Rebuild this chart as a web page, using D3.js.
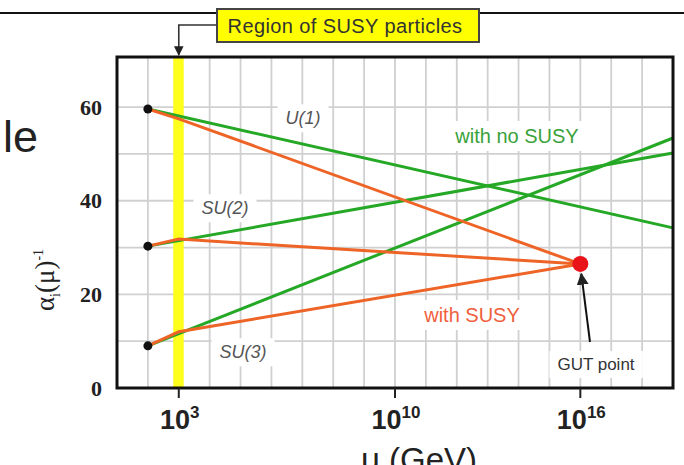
<!DOCTYPE html>
<html lang="en">
<head>
<meta charset="utf-8">
<title>Running couplings with and without SUSY</title>
<style>
  body { margin: 0; background: #fff; }
  svg { display: block; }
</style>
</head>
<body>
<script src="https://cdn.jsdelivr.net/npm/d3@7"></script>
<script>
  // data
  var groups = ["U(1)", "SU(2)", "SU(3)"];
  var muStart = 1e2, muSusy = 1e3, muGut = 1e16, muEnd = 1e19;
  var startVals = [59.6, 30.3, 9.0];      // alpha^-1 at the Z mass
  var noSusyEnd = [34.2, 50.2, 53.4];     // alpha^-1 at right edge, no SUSY
  var susyBreak = [57.5, 31.8, 12.0];     // alpha^-1 at 10^3 GeV
  var gutVal = 26.5;                      // alpha^-1 at the GUT point
  var susyBand = [10 ** 2.82, 10 ** 3.16];
  var xTicks = [1e3, 1e10, 1e16];
  var yTicks = [0, 20, 40, 60];
  var yGrid = [10, 20, 30, 40, 50, 60];

  var w = 684, h = 465;
  var margin = {top: 57, right: 11, bottom: 77, left: 117};

  var x = d3.scaleLog().domain([1e1, 1e19]).range([margin.left, w - margin.right]);
  var y = d3.scaleLinear().domain([0, 70.7]).range([h - margin.bottom, margin.top]);

  var svg = d3.select("body").append("svg").attr("width", w).attr("height", h);

  var defs = svg.append("defs");
  defs.append("marker").attr("id", "arr").attr("viewBox", "0 0 10 10")
    .attr("refX", 9).attr("refY", 5).attr("markerWidth", 6).attr("markerHeight", 7)
    .attr("orient", "auto-start-reverse")
    .append("path").attr("d", "M0,0 L10,5 L0,10 z").attr("fill", "#222");

  // slide remnants
  svg.append("line").attr("x1", 0).attr("x2", w).attr("y1", 13).attr("y2", 13)
    .attr("stroke", "#111").attr("stroke-width", 2);
  svg.append("text").text("le").attr("x", 38).attr("y", 152).attr("text-anchor", "end")
    .style("font-family", "Liberation Sans, Arial, sans-serif").style("font-size", "45px").attr("fill", "#222");

  // grid
  var grid = svg.append("g").attr("id", "grid");
  grid.selectAll("line.v").data(d3.range(2, 19).map(function(e) { return 10 ** e; }))
    .enter().append("line").attr("class", "v")
    .attr("x1", function(d) { return x(d); }).attr("x2", function(d) { return x(d); })
    .attr("y1", y.range()[1]).attr("y2", y.range()[0])
    .attr("stroke", "#d0d0d0").attr("stroke-width", 1.8);
  grid.selectAll("line.h").data(yGrid)
    .enter().append("line").attr("class", "h")
    .attr("x1", x.range()[0]).attr("x2", x.range()[1])
    .attr("y1", function(d) { return y(d); }).attr("y2", function(d) { return y(d); })
    .attr("stroke", "#d0d0d0").attr("stroke-width", 1.8);

  // SUSY band
  svg.append("rect").attr("x", x(susyBand[0])).attr("width", x(susyBand[1]) - x(susyBand[0]))
    .attr("y", y.range()[1]).attr("height", y.range()[0] - y.range()[1])
    .attr("fill", "#ffff1e");

  // labels with white boxes
  function label(txt, cx, cy, size, color, italic) {
    var t = svg.append("text").text(txt).attr("x", cx).attr("y", cy)
      .attr("text-anchor", "middle").attr("dy", "0.35em")
      .style("font-family", "Liberation Sans, Arial, sans-serif")
      .style("font-size", size + "px").style("font-style", italic ? "italic" : "normal")
      .attr("fill", color);
    var b = t.node().getBBox();
    svg.insert("rect", function() { return t.node(); })
      .attr("x", b.x - 8).attr("y", b.y - 4).attr("width", b.width + 16).attr("height", b.height + 8)
      .attr("fill", "#fff");
    return t;
  }
  label(groups[0], 303, 118, 18, "#555", true);
  label(groups[1], 225, 208, 18, "#555", true);
  label(groups[2], 243, 352, 18, "#555", true);
  label("with no SUSY", 517, 136, 20, "#3aa23a", false);
  label("with SUSY", 472, 315, 20, "#f0603c", false);
  label("GUT point", 596, 364, 17, "#333", false);

  var line = d3.line().x(function(d) { return x(d[0]); }).y(function(d) { return y(d[1]); });

  // no SUSY lines
  svg.append("g").selectAll("path").data(groups.map(function(g, i) {
      return [[muStart, startVals[i]], [muEnd, noSusyEnd[i]]];
    }))
    .enter().append("path").attr("d", line)
    .attr("fill", "none").attr("stroke", "#25a825").attr("stroke-width", 3);

  // SUSY lines
  svg.append("g").selectAll("path").data(groups.map(function(g, i) {
      return [[muStart, startVals[i]], [muSusy, susyBreak[i]], [muGut, gutVal]];
    }))
    .enter().append("path").attr("d", line)
    .attr("fill", "none").attr("stroke", "#ee6426").attr("stroke-width", 3);

  // start dots and GUT point
  svg.append("g").selectAll("circle").data(startVals).enter().append("circle")
    .attr("cx", x(muStart)).attr("cy", function(d) { return y(d); }).attr("r", 4.5).attr("fill", "#111");
  svg.append("circle").attr("cx", x(muGut)).attr("cy", y(gutVal)).attr("r", 8).attr("fill", "#e8141a");

  // frame
  svg.append("rect").attr("x", x.range()[0]).attr("y", y.range()[1])
    .attr("width", x.range()[1] - x.range()[0]).attr("height", y.range()[0] - y.range()[1])
    .attr("fill", "none").attr("stroke", "#111").attr("stroke-width", 3);

  // x ticks
  var xt = svg.append("g").selectAll("g").data(xTicks).enter().append("g");
  xt.append("line").attr("x1", function(d) { return x(d); }).attr("x2", function(d) { return x(d); })
    .attr("y1", y.range()[0]).attr("y2", y.range()[0] + 10).attr("stroke", "#222").attr("stroke-width", 2);
  var xl = xt.append("text").attr("x", function(d) { return x(d) + 1; }).attr("y", 429)
    .attr("text-anchor", "middle")
    .style("font-family", "Liberation Sans, Arial, sans-serif").style("font-weight", "bold").attr("fill", "#222");
  xl.append("tspan").text("10").style("font-size", "27px");
  xl.append("tspan").text(function(d) { return Math.round(Math.log10(d)); })
    .attr("dy", -11).style("font-size", "17px");

  // y ticks
  svg.append("g").selectAll("text").data(yTicks).enter().append("text")
    .text(function(d) { return d; })
    .attr("x", 102).attr("y", function(d) { return y(d); }).attr("dy", "0.35em")
    .attr("text-anchor", "end")
    .style("font-family", "Liberation Serif, Times New Roman, serif").style("font-weight", "bold")
    .style("font-size", "22px").attr("fill", "#222");

  // axis titles
  svg.append("text").text("\u03bc (GeV)").attr("x", 419).attr("y", 471).attr("text-anchor", "middle")
    .style("font-family", "Liberation Sans, Arial, sans-serif").style("font-size", "33px").attr("fill", "#222");
  var yl = svg.append("text").attr("transform", "translate(54,280) rotate(-90)").attr("text-anchor", "middle")
    .style("font-family", "Liberation Serif, Times New Roman, serif").style("font-size", "27px").attr("fill", "#222");
  yl.append("tspan").text("\u03b1");
  yl.append("tspan").text("i").attr("dy", 6).style("font-size", "14px");
  yl.append("tspan").text("(\u03bc)").attr("dy", -6);
  yl.append("tspan").text("-1").attr("dy", -11).style("font-size", "14px");

  // SUSY region callout
  svg.append("path").attr("d", "M216,25 H" + x(muSusy) + " V" + (y.range()[1] - 2))
    .attr("fill", "none").attr("stroke", "#333").attr("stroke-width", 1.6).attr("marker-end", "url(#arr)");
  svg.append("rect").attr("x", 217).attr("y", 9).attr("width", 262).attr("height", 33)
    .attr("fill", "#ffff00").attr("stroke", "#444").attr("stroke-width", 2);
  svg.append("text").text("Region of SUSY particles").attr("x", 345).attr("y", 26).attr("dy", "0.35em")
    .attr("text-anchor", "middle").attr("letter-spacing", "0.4px")
    .style("font-family", "Liberation Sans, Arial, sans-serif").style("font-size", "20px").attr("fill", "#333");

  // GUT point arrow
  svg.append("line").attr("x1", 590).attr("y1", 342).attr("x2", x(muGut) + 1).attr("y2", y(gutVal) + 10)
    .attr("stroke", "#111").attr("stroke-width", 2).attr("marker-end", "url(#arr)");
</script>
</body>
</html>
